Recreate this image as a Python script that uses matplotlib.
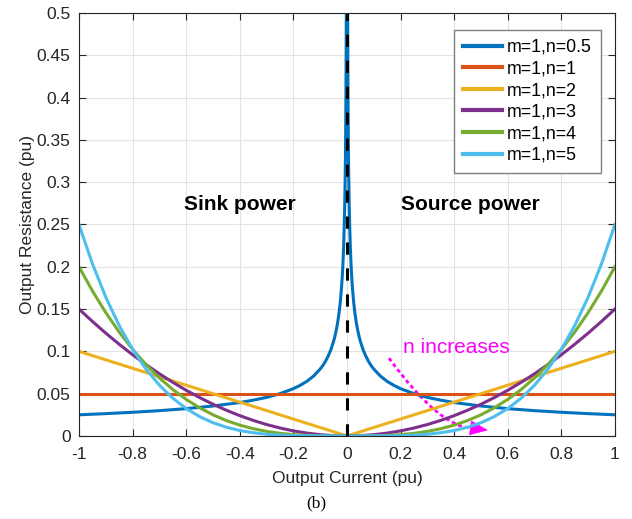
import numpy as np
import matplotlib
matplotlib.use('Agg')
import matplotlib.pyplot as plt
from matplotlib.patches import FancyArrowPatch, PathPatch
from matplotlib.path import Path

plt.rcParams['font.family'] = ['Liberation Sans', 'DejaVu Sans']

# |I| sample points (pu), curves are symmetric about I=0
i_half = [0, 0.05, 0.1, 0.15, 0.2, 0.25, 0.3, 0.35, 0.4, 0.45, 0.5,
          0.55, 0.6, 0.65, 0.7, 0.75, 0.8, 0.85, 0.9, 0.95, 1.0]

r_n3 = [0, 0.0004, 0.0015, 0.0034, 0.006, 0.0094, 0.0135, 0.0184, 0.024, 0.0304, 0.0375,
        0.0454, 0.054, 0.0634, 0.0735, 0.0844, 0.096, 0.1084, 0.1215, 0.1354, 0.15]
r_n4 = [0, 0.00003, 0.0002, 0.0007, 0.0016, 0.0031, 0.0054, 0.0086, 0.0128, 0.0182, 0.025,
        0.0333, 0.0432, 0.0549, 0.0686, 0.0844, 0.1024, 0.1228, 0.1458, 0.1715, 0.2]
r_n5 = [0, 0.0, 0.00003, 0.0001, 0.0004, 0.001, 0.002, 0.0038, 0.0064, 0.0103, 0.0156,
        0.0229, 0.0324, 0.0446, 0.06, 0.0791, 0.1024, 0.1305, 0.164, 0.2036, 0.25]

i_n2 = [0, 1.0]
r_n2 = [0, 0.1]
i_n1 = [0, 1.0]
r_n1 = [0.05, 0.05]

# n=0.5 blows up near zero current
i_n05 = [0.0025, 0.003, 0.004, 0.005, 0.006, 0.007, 0.0085, 0.01, 0.0125, 0.015, 0.0175,
         0.02, 0.025, 0.03, 0.035, 0.04, 0.045, 0.05, 0.06, 0.07, 0.08, 0.09, 0.1,
         0.125, 0.15, 0.175, 0.2, 0.25, 0.3, 0.35, 0.4, 0.5, 0.6, 0.7, 0.8, 0.9, 1.0]
r_n05 = [0.5, 0.4564, 0.3953, 0.3536, 0.3227, 0.2988, 0.2712, 0.25, 0.2236, 0.2041, 0.189,
         0.1768, 0.1581, 0.1443, 0.1336, 0.125, 0.1179, 0.1118, 0.1021, 0.0945, 0.0884,
         0.0833, 0.0791, 0.0707, 0.0645, 0.0598, 0.0559, 0.05, 0.0456, 0.0423, 0.0395,
         0.0354, 0.0323, 0.0299, 0.028, 0.0264, 0.025]

labels = ['m=1,n=0.5', 'm=1,n=1', 'm=1,n=2', 'm=1,n=3', 'm=1,n=4', 'm=1,n=5']
colors = ['#0072BD', '#D95319', '#EDB120', '#7E2F8E', '#77AC30', '#4DBEEE']


def mirror(x, y):
    x = np.asarray(x, float)
    y = np.asarray(y, float)
    return np.concatenate([-x[::-1], x]), np.concatenate([y[::-1], y])


fig = plt.figure(figsize=(6.32, 5.19), dpi=100)
ax = fig.add_axes([0.125, 0.160, 0.848, 0.815])

series = [(i_n05, r_n05), (i_n1, r_n1), (i_n2, r_n2),
          (i_half, r_n3), (i_half, r_n4), (i_half, r_n5)]
for k, (x, y) in enumerate(series):
    xx, yy = mirror(x, y)
    if k == 0:
        # two branches, don't join them across I=0
        n = len(x)
        ax.plot(xx[:n], yy[:n], color=colors[k], lw=2.2, label=labels[k])
        ax.plot(xx[n:], yy[n:], color=colors[k], lw=2.2)
    else:
        ax.plot(xx, yy, color=colors[k], lw=2.2, label=labels[k])

ax.plot([0, 0], [0, 0.5], 'k--', lw=2.2, dashes=(4, 4.5))

ax.set_xlim(-1, 1)
ax.set_ylim(0, 0.5)
ax.set_xticks(np.arange(-1, 1.01, 0.2))
ax.set_xticklabels(['-1', '-0.8', '-0.6', '-0.4', '-0.2', '0', '0.2', '0.4', '0.6', '0.8', '1'])
ax.set_yticks(np.arange(0, 0.501, 0.05))
ax.set_yticklabels(['0', '0.05', '0.1', '0.15', '0.2', '0.25', '0.3', '0.35', '0.4', '0.45', '0.5'])
ax.tick_params(direction='in', top=True, right=True, labelsize=12.5, length=5,
               color='#262626', labelcolor='#262626')
ax.tick_params(axis='x', pad=8)
ax.tick_params(axis='y', pad=6)
ax.grid(True, color='#e3e3e3', lw=0.8)
ax.set_axisbelow(True)
for s in ax.spines.values():
    s.set_color('#262626')

ax.set_xlabel('Output Current (pu)', fontsize=12.5, color='#262626')
ax.set_ylabel('Output Resistance (pu)', fontsize=12.5, color='#262626')
ax.xaxis.set_label_coords(0.5, -0.083)
ax.yaxis.set_label_coords(-0.082, 0.5)

ax.text(-0.40, 0.274, 'Sink power', fontsize=15, fontweight='bold', ha='center', va='center')
ax.text(0.46, 0.274, 'Source power', fontsize=15, fontweight='bold', ha='center', va='center')
ax.text(0.41, 0.105, 'n increases', fontsize=15, color='magenta', ha='center', va='center')

# dotted curved arrow (body + solid head drawn separately)
body = Path([(0.157, 0.092), (0.347, 0.0095), (0.466, 0.0095)],
            [Path.MOVETO, Path.CURVE3, Path.CURVE3])
ax.add_patch(PathPatch(body, fill=False, edgecolor='magenta', lw=2.0,
                       linestyle=(0, (1.4, 1.1))))
head = FancyArrowPatch((0.462, 0.0095), (0.526, 0.0068),
                       arrowstyle='-|>,head_length=12,head_width=5',
                       color='magenta', lw=0.5, shrinkA=0, shrinkB=0)
ax.add_patch(head)

leg = ax.legend(loc='upper right', fontsize=12.8, handlelength=2.2, handletextpad=0.3,
                borderpad=0.5, labelspacing=0.26, fancybox=False, framealpha=1,
                edgecolor='#7f7f7f', bbox_to_anchor=(0.974, 0.960), borderaxespad=0)
for ln in leg.get_lines():
    ln.set_linewidth(3)

fig.text(0.5, 0.031, '(b)', family='Liberation Serif', fontsize=12.5, ha='center', va='center')

fig.savefig('out.png', dpi=100)
